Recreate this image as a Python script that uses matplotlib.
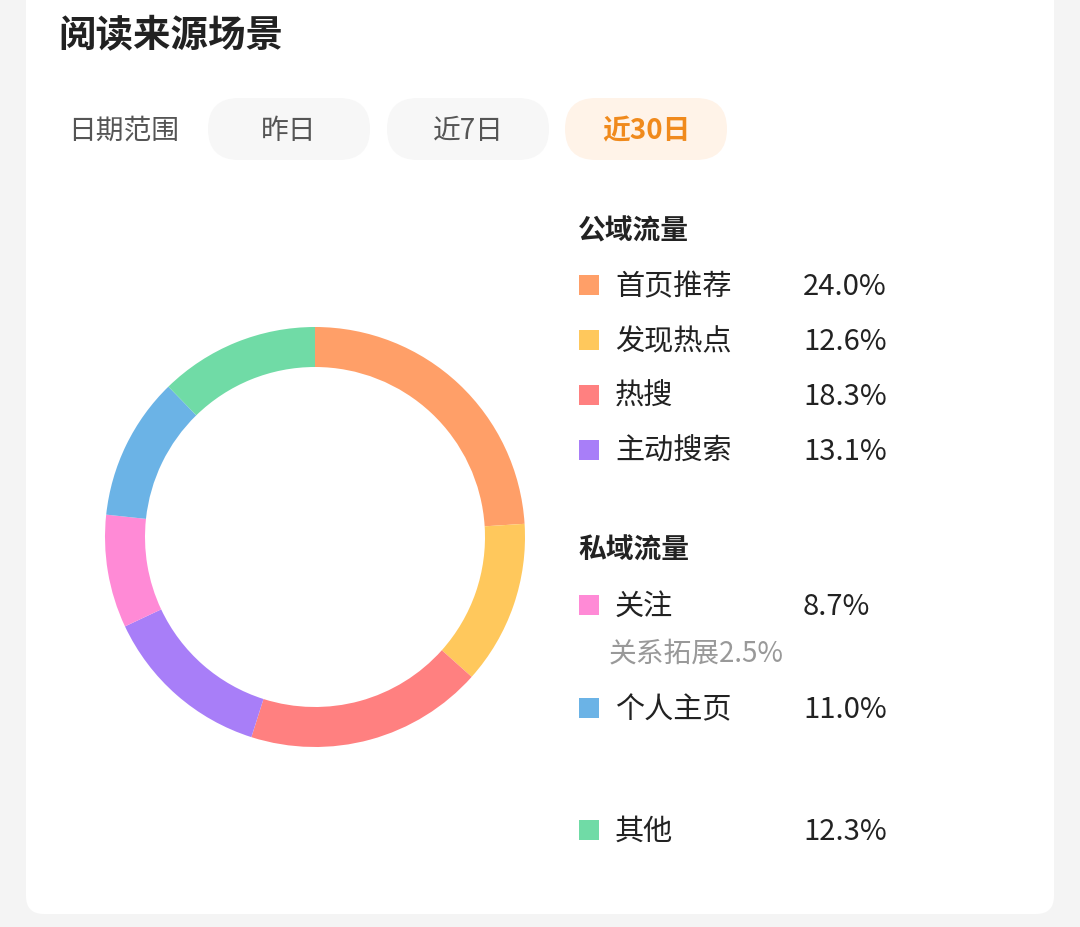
import matplotlib.pyplot as plt
from matplotlib.patches import FancyBboxPatch

plt.rcParams['font.family'] = ['Noto Sans CJK SC', 'DejaVu Sans']

labels = ['首页推荐', '发现热点', '热搜', '主动搜索', '关注', '个人主页', '其他']
values = [24.0, 12.6, 18.3, 13.1, 8.7, 11.0, 12.3]
colors = ['#FF9F68', '#FFC85C', '#FF8080', '#A87EF8', '#FF8AD6', '#6BB3E6', '#70DBA6']
legend_y = [285, 340, 395, 450, 605, 708, 830]  # pixel rows of legend entries
buttons = ['昨日', '近7日', '近30日']

W, H = 1080, 927
fig = plt.figure(figsize=(W / 100, H / 100), dpi=100)
fig.patch.set_facecolor('#F4F4F4')
bg = fig.add_axes([0, 0, 1, 1])
bg.set_xlim(0, W)
bg.set_ylim(H, 0)
bg.axis('off')

# card
bg.add_patch(FancyBboxPatch((26, -40), 1028, 954, boxstyle='round,pad=0,rounding_size=18',
                            facecolor='white', edgecolor='none'))
bg.text(58, 35, '阅读来源场景', fontsize=27, color='#222222', va='center', weight='bold')
bg.text(68, 131, '日期范围', fontsize=20, color='#555555', va='center')

bx = [208, 387, 565]
for x, b in zip(bx, buttons):
    active = b == '近30日'
    bg.add_patch(FancyBboxPatch((x, 98), 162, 62, boxstyle='round,pad=0,rounding_size=31',
                                facecolor='#FFF3E8' if active else '#F7F7F7', edgecolor='none'))
    bg.text(x + 81, 131, b, fontsize=20, ha='center', va='center',
            color='#F08A1C' if active else '#555555', weight='bold' if active else 'normal')

bg.text(578, 231, '公域流量', fontsize=20, color='#222222', va='center', weight='bold')
bg.text(578, 551, '私域流量', fontsize=20, color='#222222', va='center', weight='bold')
for lab, v, c, y in zip(labels, values, colors, legend_y):
    bg.add_patch(plt.Rectangle((579, y - 10), 20, 20, facecolor=c, edgecolor='none'))
    bg.text(615, y + 2, lab, fontsize=21, color='#222222', va='center')
    bg.text(803, y + 2, f'{v:.1f}%', fontsize=21, color='#222222', va='center')
bg.text(609, 653, '关系拓展2.5%', fontsize=20, color='#999999', va='center')

# donut
cx, cy, r = 315, 537, 210
ax = fig.add_axes([(cx - r) / W, 1 - (cy + r) / H, 2 * r / W, 2 * r / H])
ax.pie(values, colors=colors, startangle=90, counterclock=False,
       wedgeprops=dict(width=40 / r, edgecolor='none'))
ax.set_xlim(-1, 1)
ax.set_ylim(-1, 1)
ax.set_aspect('equal')

fig.savefig('out.png', dpi=100, facecolor=fig.get_facecolor())
